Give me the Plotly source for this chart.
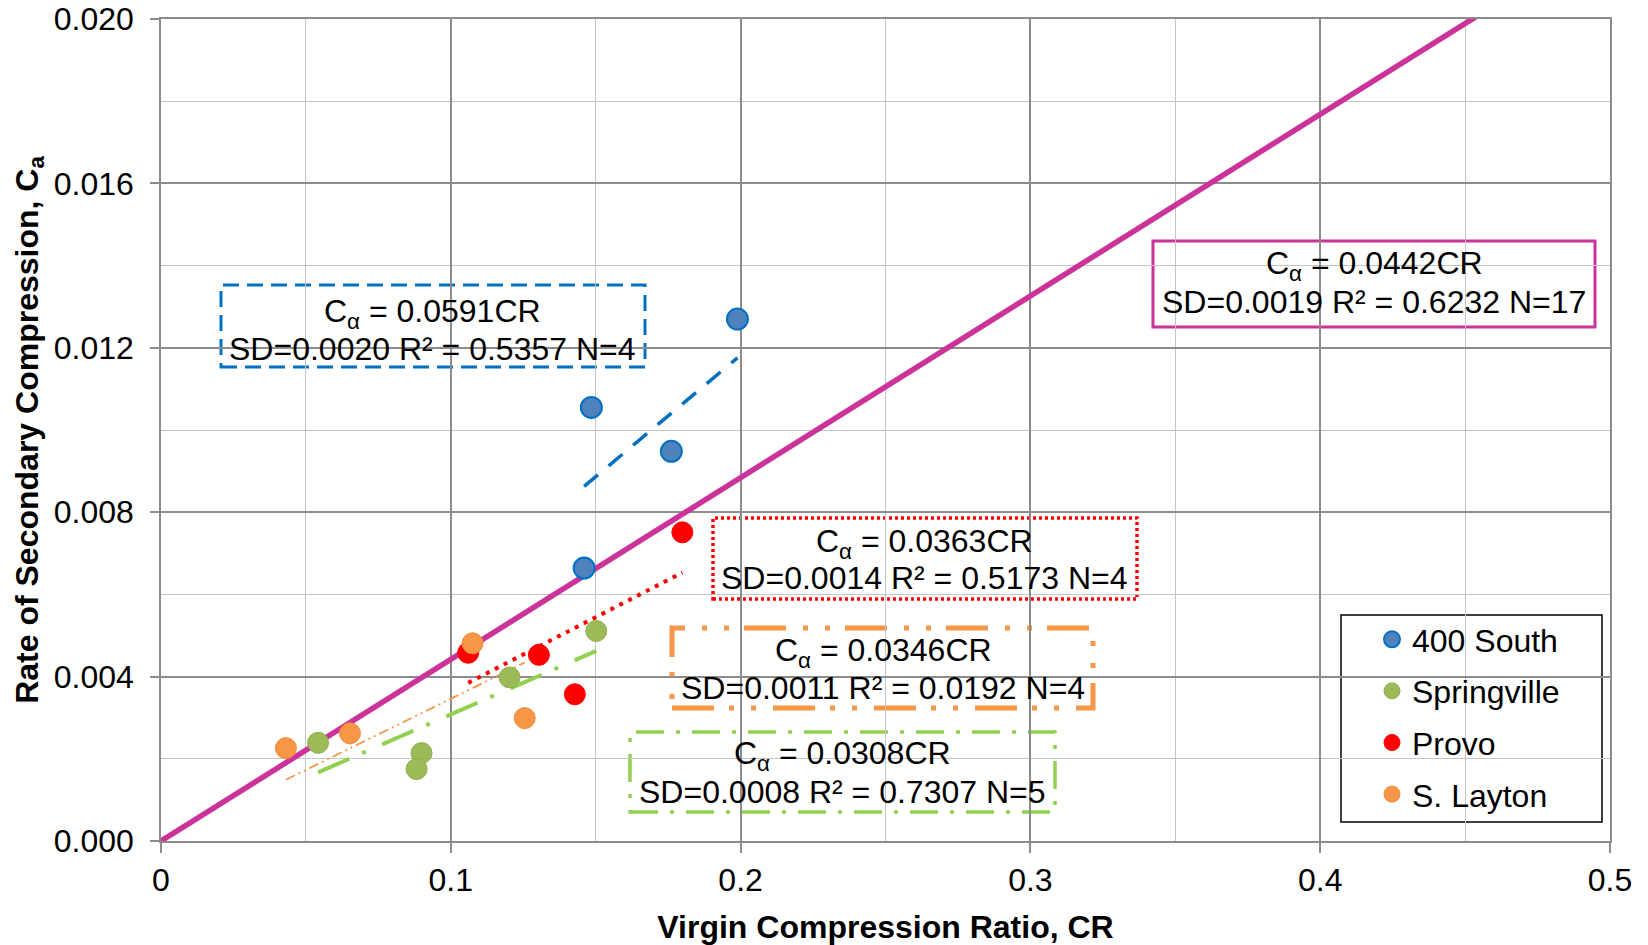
import plotly.graph_objects as go

# ---------------- data ----------------
s400_x = [0.1989, 0.1485, 0.1761, 0.1460]
s400_y = [0.01270, 0.01055, 0.00948, 0.00664]
spr_x = [0.0542, 0.1502, 0.1203, 0.0899, 0.0882]
spr_y = [0.00239, 0.00511, 0.00398, 0.00214, 0.00175]
pro_x = [0.1799, 0.1060, 0.1304, 0.1428]
pro_y = [0.00751, 0.00458, 0.00453, 0.00357]
lay_x = [0.0431, 0.0652, 0.1075, 0.1255]
lay_y = [0.00226, 0.00262, 0.00481, 0.00299]

series_names = ["400 South", "Springville", "Provo", "S. Layton"]
slope_400 = 0.0591
slope_spr = 0.0308
slope_pro = 0.0363
slope_lay = 0.0346
slope_all = 0.0442
all_fit_x = [0.0, 0.5]

eq_400 = ["C<sub>α</sub> = 0.0591CR", "SD=0.0020 R² = 0.5357 N=4"]
eq_all = ["C<sub>α</sub> = 0.0442CR", "SD=0.0019 R² = 0.6232 N=17"]
eq_pro = ["C<sub>α</sub> = 0.0363CR", "SD=0.0014 R² = 0.5173 N=4"]
eq_lay = ["C<sub>α</sub> = 0.0346CR", "SD=0.0011 R² = 0.0192 N=4"]
eq_spr = ["C<sub>α</sub> = 0.0308CR", "SD=0.0008 R² = 0.7307 N=5"]

x_tickvals = [0, 0.1, 0.2, 0.3, 0.4, 0.5]
x_ticktext = ["0", "0.1", "0.2", "0.3", "0.4", "0.5"]
y_tickvals = [0.000, 0.004, 0.008, 0.012, 0.016, 0.020]
y_ticktext = ["0.000", "0.004", "0.008", "0.012", "0.016", "0.020"]

x_title = "Virgin Compression Ratio, CR"
y_title = "Rate of Secondary Compression, C<sub>a</sub>"

# ---------------- style ----------------
FONT = "Liberation Sans, Arial, sans-serif"
FS = 32
C_BLUE_FILL = "#4F81BD"
C_BLUE = "#0070C0"
C_GREEN = "#9BBB59"
C_GREEN_LINE = "#92D050"
C_RED = "#FF0000"
C_ORANGE = "#F79646"
C_MAG = "#CC3399"
MAJOR_GRID = "#8C8C8C"
MINOR_GRID = "#C4C4C4"

OFF = 8  # default page body margin
W, H = 1640, 937
L, R, T, B = 153, 38, 11, 104
PW, PH = W - L - R, H - T - B


def px(xp):
    """page pixel x -> paper fraction"""
    return (xp - OFF - L) / PW


def py(yp):
    """page pixel y -> paper fraction"""
    return (H - B - (yp - OFF)) / PH


def fit_line(xs, slope):
    x0, x1 = min(xs), max(xs)
    return [x0, x1], [slope * x0, slope * x1]


fig = go.Figure()

# overall fit
fig.add_trace(go.Scatter(x=all_fit_x, y=[slope_all * v for v in all_fit_x], mode="lines",
                         line=dict(color=C_MAG, width=5.5), showlegend=False, hoverinfo="skip"))

# group trend lines
for xs, slope, color, width, dash in [
    (s400_x, slope_400, C_BLUE, 3.5, "18px,14px"),
    (pro_x, slope_pro, C_RED, 4, "4px,6px"),
    (lay_x, slope_lay, C_ORANGE, 1.8, "10px,4px,2px,4px,2px,4px"),
    (spr_x, slope_spr, C_GREEN_LINE, 4, "34px,14px,4px,18px"),
]:
    fx, fy = fit_line(xs, slope)
    fig.add_trace(go.Scatter(x=fx, y=fy, mode="lines",
                             line=dict(color=color, width=width, dash=dash),
                             showlegend=False, hoverinfo="skip"))

# data points
for name, xs, ys, fill, lc, lw in [
    (series_names[0], s400_x, s400_y, C_BLUE_FILL, C_BLUE, 2),
    (series_names[1], spr_x, spr_y, C_GREEN, "#8FAF50", 1),
    (series_names[2], pro_x, pro_y, C_RED, C_RED, 1),
    (series_names[3], lay_x, lay_y, C_ORANGE, "#F08A3A", 1),
]:
    fig.add_trace(go.Scatter(x=xs, y=ys, mode="markers", name=name, legendgroup=name,
                             marker=dict(size=21, color=fill, line=dict(color=lc, width=lw))))

shapes = []
# equation boxes: (x0, y0, x1, y1) in page px, color, width, dash, fill
boxes = [
    ((221, 285, 645, 367), C_BLUE, 3, "16px,8px", "white"),
    ((1153, 241, 1595, 327), C_MAG, 3, "solid", "white"),
    ((713, 518, 1137, 599), C_RED, 3.5, "3px,3px", "white"),
    ((672, 628, 1093, 708), C_ORANGE, 5, "42px,15px,5px,17px,5px,17px", "rgba(0,0,0,0)"),
    ((630, 732, 1055, 812), C_GREEN_LINE, 3.5, "28px,12px,4px,12px", "white"),
]
for (x0, y0, x1, y1), col, w, dash, fill in boxes:
    shapes.append(dict(type="rect", xref="paper", yref="paper",
                       x0=px(x0), x1=px(x1), y0=py(y1), y1=py(y0),
                       line=dict(color=col, width=w, dash=dash), fillcolor=fill, layer="between"))
# legend frame
shapes.append(dict(type="rect", xref="paper", yref="paper",
                   x0=px(1341), x1=px(1602), y0=py(822), y1=py(615),
                   line=dict(color="black", width=1.5), fillcolor="white", layer="between"))

annotations = []
for lines, cx, y1, y2 in [
    (eq_400, 432, 313, 349),
    (eq_all, 1374, 265, 302),
    (eq_pro, 925, 543, 578),
    (eq_lay, 883, 652, 688),
    (eq_spr, 842, 755, 792),
]:
    for txt, yy in zip(lines, (y1, y2)):
        annotations.append(dict(text=txt, xref="paper", yref="paper", x=px(cx), y=py(yy),
                                xanchor="center", yanchor="middle", showarrow=False,
                                font=dict(family=FONT, size=FS, color="black")))

fig.update_layout(
    width=W, height=H,
    margin=dict(l=L, r=R, t=T, b=B, autoexpand=False),
    paper_bgcolor="white", plot_bgcolor="white",
    font=dict(family=FONT, size=FS, color="black"),
    shapes=shapes, annotations=annotations,
    legend=dict(x=px(1372), y=py(612), xanchor="left", yanchor="top",
                bgcolor="rgba(0,0,0,0)", borderwidth=0,
                font=dict(family=FONT, size=FS, color="black"),
                traceorder="grouped", tracegroupgap=7),
)

fig.update_xaxes(
    range=[0, 0.5], tickvals=x_tickvals, ticktext=x_ticktext, automargin=False,
    showgrid=True, gridcolor=MAJOR_GRID, gridwidth=1.5,
    minor=dict(dtick=0.05, showgrid=True, gridcolor=MINOR_GRID, gridwidth=1.2),
    showline=True, mirror=True, linecolor=MAJOR_GRID, linewidth=1.5,
    ticks="outside", ticklen=10, tickcolor=MAJOR_GRID, tickwidth=1.5,
    zeroline=False, ticklabelstandoff=0, ticklabeloverflow="allow",
    tickfont=dict(family=FONT, size=FS, color="black"),
    title=dict(text=x_title, font=dict(family=FONT, size=FS, color="black", weight="bold"), standoff=24),
)
fig.update_yaxes(
    range=[0, 0.020], tickvals=y_tickvals, ticktext=y_ticktext, automargin=False,
    showgrid=True, gridcolor=MAJOR_GRID, gridwidth=1.5,
    minor=dict(dtick=0.002, showgrid=True, gridcolor=MINOR_GRID, gridwidth=1.2),
    showline=True, mirror=True, linecolor=MAJOR_GRID, linewidth=1.5,
    ticks="outside", ticklen=9, tickcolor=MAJOR_GRID, tickwidth=1.5,
    zeroline=False, ticklabelstandoff=10, ticklabeloverflow="allow",
    tickfont=dict(family=FONT, size=FS, color="black"),
    title=dict(text=y_title, font=dict(family=FONT, size=FS, color="black", weight="bold"), standoff=6),
)

fig.write_html("out.html")
